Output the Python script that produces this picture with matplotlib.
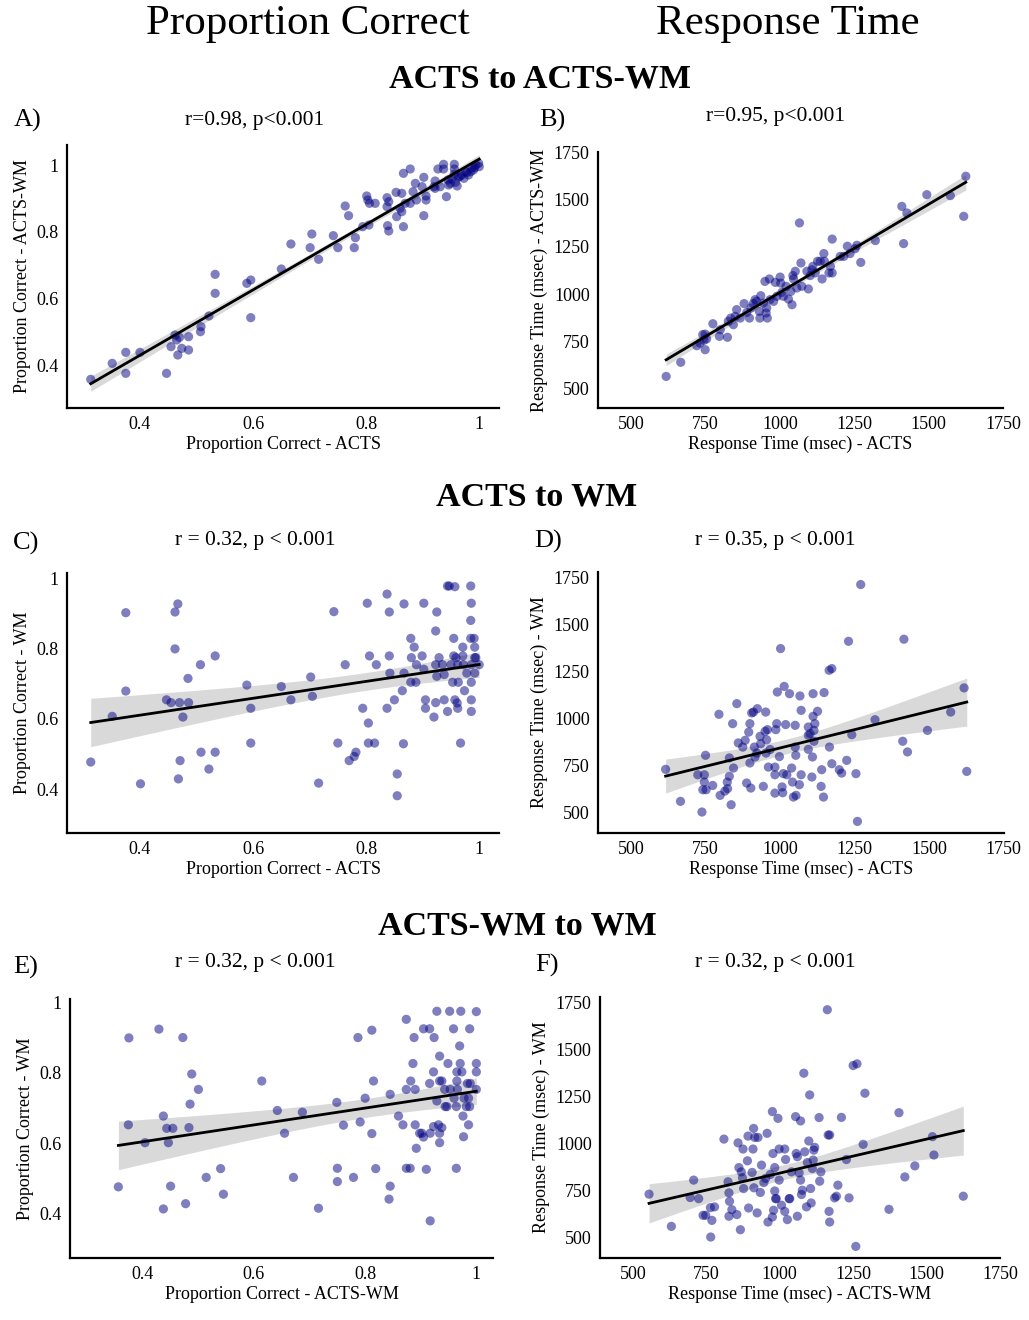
import numpy as np
import matplotlib
matplotlib.use("Agg")
import matplotlib.pyplot as plt

plt.rcParams['font.family'] = ['Liberation Serif', 'DejaVu Serif']

# ---------------- data ----------------
# A) Proportion correct: ACTS (x) vs ACTS-WM (y)
a_x = [0.313,0.351,0.375,0.375,0.400,0.447,0.455,0.462,0.465,0.470,0.467,0.474,0.486,0.486,0.507,0.508,
       0.522,0.533,0.533,0.589,0.596,0.596,0.650,0.667,0.701,0.704,0.716,0.742,0.750,0.763,0.769,0.779,
       0.781,0.794,0.801,0.803,0.805,0.806,0.816,0.837,0.838,0.840,0.840,0.837,0.854,0.853,0.863,0.863,
       0.866,0.866,0.878,0.878,0.883,0.887,0.889,0.899,0.902,0.902,0.906,0.906,0.922,0.922,0.927,0.931,
       0.937,0.937,0.942,0.945,0.949,0.956,0.956,0.956,0.958,0.961,0.963,0.969,0.973,0.978,0.981,0.985,
       0.987,0.990,0.994,0.999,1.000,0.952,0.946,0.966,0.976,0.992,0.920,0.869,0.860]
a_y = [0.357,0.405,0.438,0.375,0.438,0.375,0.455,0.490,0.475,0.483,0.430,0.450,0.445,0.485,0.500,0.515,
       0.547,0.615,0.672,0.645,0.655,0.542,0.688,0.763,0.752,0.793,0.717,0.788,0.752,0.877,0.848,0.752,
       0.782,0.815,0.907,0.895,0.820,0.885,0.885,0.902,0.818,0.802,0.890,0.875,0.845,0.918,0.860,0.915,
       0.815,0.975,0.988,0.885,0.920,0.945,0.895,0.935,0.963,0.848,0.895,0.907,0.930,0.952,0.988,0.935,
       1.002,0.988,0.905,0.955,0.945,1.002,0.988,0.973,0.948,0.937,0.963,0.970,0.960,0.977,0.970,0.980,
       0.992,0.985,1.000,1.005,0.995,0.958,0.940,0.966,0.980,0.992,0.935,0.885,0.870]

# B) Response time: ACTS (x) vs ACTS-WM (y)
b_x = [618,667,721,732,741,749,749,745,754,775,797,800,824,827,835,844,850,855,867,880,889,898,903,911,
       917,922,931,933,936,945,950,954,956,958,965,967,979,985,990,1001,1003,1007,1012,1021,1029,1037,
       1041,1044,1046,1052,1057,1066,1071,1074,1096,1091,1102,1108,1111,1119,1127,1136,1142,1148,1150,
       1165,1176,1176,1170,1203,1215,1227,1236,1253,1259,1272,1321,1410,1416,1427,1494,1573,1618,1625]
b_y = [562,637,725,739,784,704,787,754,761,842,775,810,770,855,872,837,881,917,872,949,902,872,926,949,
       970,961,908,872,991,952,1067,899,926,872,1080,970,961,1062,988,1090,1058,1009,988,1041,973,1014,
       943,1098,1080,1121,1032,1378,1165,1041,1027,1121,1098,1129,1147,1112,1174,1174,1080,1215,1174,
       1112,1112,1292,1147,1200,1200,1254,1215,1241,1259,1168,1284,1466,1268,1431,1528,1523,1413,1626]

# C) Proportion correct: ACTS (x) vs WM (y)
c_x = [0.313,0.351,0.375,0.375,0.401,0.447,0.455,0.462,0.467,0.462,0.470,0.476,0.471,0.468,0.485,0.486,
       0.507,0.508,0.522,0.533,0.533,0.589,0.596,0.596,0.650,0.667,0.702,0.705,0.716,0.743,0.750,0.763,
       0.770,0.779,0.782,0.794,0.802,0.804,0.806,0.804,0.815,0.818,0.837,0.837,0.841,0.841,0.842,0.850,
       0.855,0.855,0.864,0.867,0.867,0.866,0.879,0.880,0.879,0.885,0.888,0.889,0.899,0.902,0.902,0.905,
       0.905,0.920,0.923,0.925,0.923,0.923,0.925,0.929,0.935,0.938,0.938,0.944,0.947,0.944,0.950,0.953,
       0.955,0.955,0.957,0.957,0.959,0.961,0.962,0.962,0.963,0.967,0.971,0.971,0.972,0.974,0.978,0.985,
       0.986,0.985,0.985,0.986,0.986,0.986,0.986,0.991,0.992,0.992,0.992,0.994,1.000]
c_y = [0.477,0.607,0.902,0.679,0.415,0.654,0.646,0.904,0.927,0.799,0.646,0.605,0.481,0.429,0.715,0.646,
       0.754,0.505,0.457,0.779,0.505,0.696,0.630,0.531,0.692,0.654,0.719,0.664,0.417,0.905,0.531,0.754,
       0.481,0.493,0.505,0.630,0.929,0.588,0.779,0.531,0.531,0.754,0.955,0.630,0.904,0.779,0.730,0.654,
       0.443,0.381,0.680,0.927,0.730,0.529,0.829,0.774,0.704,0.804,0.704,0.754,0.779,0.929,0.741,0.654,
       0.630,0.605,0.850,0.904,0.646,0.754,0.721,0.774,0.754,0.726,0.654,0.978,0.978,0.621,0.754,0.704,
       0.779,0.829,0.654,0.976,0.774,0.645,0.630,0.754,0.704,0.531,0.804,0.779,0.754,0.680,0.730,0.978,
       0.929,0.880,0.829,0.754,0.704,0.654,0.621,0.829,0.804,0.774,0.730,0.774,0.754]

# D) Response time: ACTS (x) vs WM (y)
d_x = [616,666,724,738,741,746,746,750,752,774,795,799,815,823,824,830,830,836,841,844,855,860,875,883,
       888,895,899,899,902,905,911,914,916,922,924,933,935,944,950,952,953,955,958,961,967,983,983,986,
       989,991,983,998,1002,1007,1009,1011,1014,1019,1023,1032,1039,1042,1045,1051,1051,1053,1054,1065,
       1067,1071,1071,1095,1095,1095,1101,1107,1109,1111,1111,1114,1117,1114,1126,1138,1140,1146,1148,
       1165,1174,1166,1174,1199,1207,1224,1230,1241,1255,1260,1271,1319,1412,1416,1428,1495,1573,1618,1627]
d_y = [728,557,699,500,619,699,660,803,619,642,1022,589,612,660,625,691,789,539,972,735,1079,869,847,883,
       655,927,972,762,628,1029,1034,847,794,815,1052,904,865,637,931,1034,815,886,940,740,834,740,699,940,
       972,1141,601,796,1373,634,603,705,1171,967,699,1132,735,660,580,847,963,803,589,646,
       1120,1043,699,954,910,835,919,687,794,1011,1132,936,972,878,1038,637,726,580,1138,
       1257,1266,847,758,726,708,776,1412,913,705,450,1715,993,878,1423,821,936,1034,1163,717]

# E) Proportion correct: ACTS-WM (x) vs WM (y)
e_x = [0.356,0.374,0.375,0.404,0.429,0.437,0.437,0.443,0.446,0.450,0.454,0.472,0.477,0.483,0.485,0.488,
       0.500,0.514,0.540,0.545,0.614,0.642,0.655,0.671,0.687,0.716,0.749,0.750,0.750,0.761,0.779,0.787,
       0.791,0.800,0.812,0.812,0.815,0.819,0.845,0.845,0.843,0.860,0.868,0.874,0.874,0.874,0.881,0.882,
       0.886,0.888,0.890,0.890,0.892,0.898,0.902,0.905,0.905,0.910,0.916,0.916,0.917,0.917,0.923,0.924,
       0.923,0.929,0.929,0.932,0.934,0.934,0.934,0.934,0.938,0.938,0.943,0.944,0.947,0.949,0.952,0.953,
       0.959,0.960,0.964,0.964,0.965,0.965,0.966,0.970,0.971,0.972,0.974,0.976,0.977,0.978,0.982,0.984,
       0.986,0.986,0.988,0.988,0.989,1.000,1.000,1.000,1.000]
e_y = [0.475,0.652,0.900,0.601,0.925,0.677,0.412,0.642,0.601,0.477,0.642,0.901,0.427,0.644,0.711,0.797,
       0.753,0.502,0.527,0.454,0.777,0.693,0.628,0.502,0.688,0.414,0.716,0.528,0.490,0.651,0.502,0.901,
       0.660,0.728,0.922,0.627,0.777,0.527,0.739,0.477,0.440,0.677,0.652,0.953,0.753,0.528,0.528,0.777,
       0.827,0.901,0.753,0.652,0.585,0.628,0.628,0.617,0.926,0.525,0.926,0.770,0.378,0.628,0.647,0.901,
       0.803,0.720,0.976,0.652,0.848,0.777,0.628,0.601,0.777,0.644,0.753,0.704,0.704,0.827,0.976,0.753,
       0.926,0.728,0.528,0.704,0.803,0.777,0.753,0.877,0.827,0.976,0.803,0.677,0.618,0.728,0.704,0.770,
       0.652,0.728,0.926,0.704,0.770,0.975,0.827,0.803,0.753]

# F) Response time: ACTS-WM (x) vs WM (y)
f_x = [555,631,695,707,724,739,748,764,765,769,778,810,824,827,829,827,837,854,858,861,866,869,873,875,
       877,890,892,894,906,909,911,912,915,923,926,934,938,946,952,957,960,968,975,977,979,983,983,986,
       975,988,994,998,998,1006,1017,1017,1020,1026,1032,1034,1040,1054,1056,1060,1060,1066,1071,1071,
       1074,1077,1082,1085,1091,1094,1099,1102,1105,1107,1111,1114,1116,1119,1134,1136,1140,1162,1165,
       1170,1168,1170,1187,1193,1198,1210,1227,1236,1250,1263,1259,1284,1290,1372,1406,1426,1460,1520,
       1525,1625]
f_y = [729,557,711,804,705,616,616,657,500,589,661,1023,795,736,691,611,646,620,1003,871,539,848,816,970,
       759,907,1039,655,845,970,1080,763,1032,629,1032,738,884,791,813,1054,580,834,607,946,643,746,871,705,
       1170,705,1134,804,970,670,970,637,914,593,705,705,848,1143,946,929,611,843,1120,804,
       727,750,1375,955,661,898,1013,1259,759,682,866,911,964,979,1138,798,848,1714,1045,
       1045,637,580,709,718,777,1139,914,709,1416,1425,450,995,1268,648,1164,821,880,1036,
       938,718]

pc_ticks = [0.4, 0.6, 0.8, 1.0]
pc_labels = ["0.4", "0.6", "0.8", "1"]
rt_ticks = [500, 750, 1000, 1250, 1500, 1750]
rt_labels = ["500", "750", "1000", "1250", "1500", "1750"]

# ---------------- figure ----------------
W, H = 1029, 1320
fig = plt.figure(figsize=(W / 100, H / 100), dpi=100)

def px_axes(l, r, t, b):
    return fig.add_axes([l / W, 1 - b / H, (r - l) / W, (b - t) / H])

panels = [
    # x, y, rect, kind, xlabel, ylabel, xlim, ylim
    (a_x, a_y, (67, 499, 145, 408), 'pc', 'Proportion Correct - ACTS', 'Proportion Correct - ACTS-WM', (0.271, 1.035), (0.271, 1.06)),
    (b_x, b_y, (598, 1003, 152, 408), 'rt', 'Response Time (msec) - ACTS', 'Response Time (msec) - ACTS-WM', (389, 1750), (394, 1755)),
    (c_x, c_y, (67, 499, 573, 833), 'pc', 'Proportion Correct - ACTS', 'Proportion Correct - WM', (0.271, 1.035), (0.275, 1.015)),
    (d_x, d_y, (598, 1004, 572, 833), 'rt', 'Response Time (msec) - ACTS', 'Response Time (msec) - WM', (389, 1752), (388, 1782)),
    (e_x, e_y, (70, 493, 999, 1258), 'pc', 'Proportion Correct - ACTS-WM', 'Proportion Correct - WM', (0.269, 1.03), (0.272, 1.011)),
    (f_x, f_y, (600, 1000, 997, 1258), 'rt', 'Response Time (msec) - ACTS-WM', 'Response Time (msec) - WM', (388, 1750), (388, 1782)),
]

for x, y, rect, kind, xl, yl, xlim, ylim in panels:
    ax = px_axes(*rect)
    x = np.asarray(x, float)
    y = np.asarray(y, float)
    ax.scatter(x, y, s=44, color='navy', alpha=0.5, edgecolors='none', zorder=2)
    # OLS fit with 95% CI band
    n = len(x)
    slope, icpt = np.polyfit(x, y, 1)
    grid = np.linspace(x.min(), x.max(), 100)
    yhat = icpt + slope * grid
    resid = y - (icpt + slope * x)
    s = np.sqrt(np.sum(resid ** 2) / (n - 2))
    sxx = np.sum((x - x.mean()) ** 2)
    se = s * np.sqrt(1 / n + (grid - x.mean()) ** 2 / sxx)
    ax.fill_between(grid, yhat - 1.98 * se, yhat + 1.98 * se, color='black', alpha=0.15, lw=0, zorder=1)
    ax.plot(grid, yhat, color='black', lw=2.0, zorder=3)
    ax.set_xlim(*xlim)
    ax.set_ylim(*ylim)
    if kind == 'pc':
        ax.set_xticks(pc_ticks, pc_labels)
        ax.set_yticks(pc_ticks, pc_labels)
    else:
        ax.set_xticks(rt_ticks, rt_labels)
        ax.set_yticks(rt_ticks, rt_labels)
    ax.tick_params(length=0, labelsize=13, pad=6)
    ax.set_xlabel(xl, fontsize=13, labelpad=2)
    ax.set_ylabel(yl, fontsize=13, labelpad=4)
    for side in ('top', 'right'):
        ax.spines[side].set_visible(False)
    for side in ('left', 'bottom'):
        ax.spines[side].set_linewidth(1.6)
        ax.spines[side].set_color('black')
    ax.set_facecolor('white')

def ftext(xp, yp, s, **kw):
    fig.text(xp / W, 1 - yp / H, s, ha='center', va='center', **kw)

ftext(308, 24, 'Proportion Correct', fontsize=31)
ftext(788, 24, 'Response Time', fontsize=31)
ftext(540, 79, 'ACTS to ACTS-WM', fontsize=24.5, fontweight='bold')
ftext(537, 497, 'ACTS to WM', fontsize=24.5, fontweight='bold')
ftext(517, 926, 'ACTS-WM to WM', fontsize=24.5, fontweight='bold')

for lab, xp, yp in [('A)', 28, 120), ('B)', 552, 120), ('C)', 26, 543),
                    ('D)', 548, 541), ('E)', 26, 967), ('F)', 547, 965)]:
    ftext(xp, yp, lab, fontsize=19)

for s, xp, yp in [('r=0.98, p<0.001', 255, 120), ('r=0.95, p<0.001', 775, 117),
                  ('r = 0.32, p < 0.001', 255, 540), ('r = 0.35, p < 0.001', 775, 540),
                  ('r = 0.32, p < 0.001', 255, 963), ('r = 0.32, p < 0.001', 775, 963)]:
    ftext(xp, yp, s, fontsize=15.5)

fig.savefig('out.png', dpi=100, facecolor='white')
